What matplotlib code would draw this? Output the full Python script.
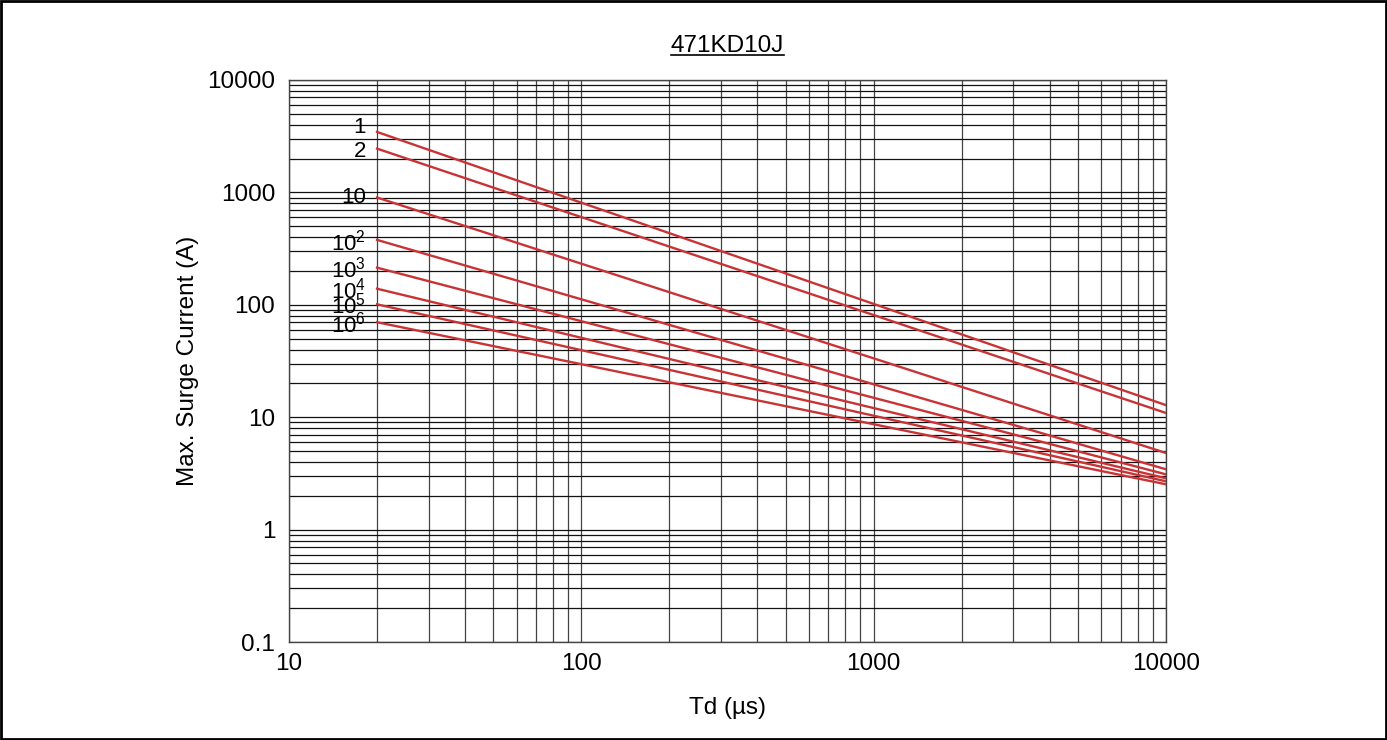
import numpy as np
import matplotlib
matplotlib.use("Agg")
import matplotlib.pyplot as plt
from matplotlib.patches import Rectangle
from matplotlib.ticker import LogLocator, FuncFormatter

plt.rcParams['font.family'] = ['Liberation Sans', 'DejaVu Sans']
plt.rcParams['mathtext.fontset'] = 'custom'
plt.rcParams['mathtext.rm'] = 'Liberation Sans'
plt.rcParams['mathtext.it'] = 'Liberation Sans'

# Surge derating curves: pulse count vs (Td, Imax) at the two ends
labels = ['1', '2', '10', '$10^{2}$', '$10^{3}$', '$10^{4}$', '$10^{5}$', '$10^{6}$']
td = [20, 10000]
i_start = [3450, 2450, 900, 378, 214, 139, 101, 70]
i_end = [12.8, 10.9, 4.8, 3.44, 3.1, 2.86, 2.69, 2.53]
label_dy = [3, -2, 0, -2, -1, -1, -1, -2]

fig = plt.figure(figsize=(13.87, 7.40), dpi=100)
ax = fig.add_axes([0.2084, 0.1324, 0.6323, 0.7595])

for lab, a, b, dy in zip(labels, i_start, i_end, label_dy):
    ax.plot(td, [a, b], color='#c93336', lw=1.7, zorder=3)
    ax.annotate(lab, xy=(td[0], a), xytext=(-8, dy), textcoords='offset points',
                ha='right', va='center', fontsize=16)

ax.set_xscale('log')
ax.set_yscale('log')
ax.set_xlim(10, 10000)
ax.set_ylim(0.1, 10000)

fmt = FuncFormatter(lambda v, p: ('%g' % v))
ax.xaxis.set_major_formatter(fmt)
ax.yaxis.set_major_formatter(fmt)
ax.xaxis.set_minor_locator(LogLocator(base=10, subs=np.arange(2, 10)))
ax.yaxis.set_minor_locator(LogLocator(base=10, subs=np.arange(2, 10)))
ax.xaxis.set_minor_formatter(FuncFormatter(lambda v, p: ''))
ax.yaxis.set_minor_formatter(FuncFormatter(lambda v, p: ''))
ax.tick_params(which='both', length=0, labelsize=17.5)
ax.tick_params(axis='y', pad=10)
ax.tick_params(axis='x', pad=8)

ax.grid(True, which='both', axis='y', color='#111111', lw=0.9)
ax.grid(True, which='both', axis='x', color='#444444', lw=0.9)
ax.set_axisbelow(True)
for s in ax.spines.values():
    s.set_color('#444444')
    s.set_linewidth(1.0)

ax.set_xlabel('Td (µs)', fontsize=17.5, labelpad=16)
ax.set_ylabel('Max. Surge Current (A)', fontsize=17.5, labelpad=6)
ax.set_title('471KD10J', fontsize=17.5, pad=20)
t = ax.title
fig.canvas.draw()
bb = t.get_window_extent()
inv = fig.transFigure.inverted()
(x0, y0), (x1, y1) = inv.transform([(bb.x0, bb.y0), (bb.x1, bb.y1)])
fig.add_artist(plt.Line2D([x0, x1], [y0 + 0.003, y0 + 0.003], color='black', lw=1.2))

# outer frame
fig.add_artist(Rectangle((0.001, 0.002), 0.998, 0.996, transform=fig.transFigure,
                         fill=False, edgecolor='black', lw=2))

fig.savefig('out.png', dpi=100)
